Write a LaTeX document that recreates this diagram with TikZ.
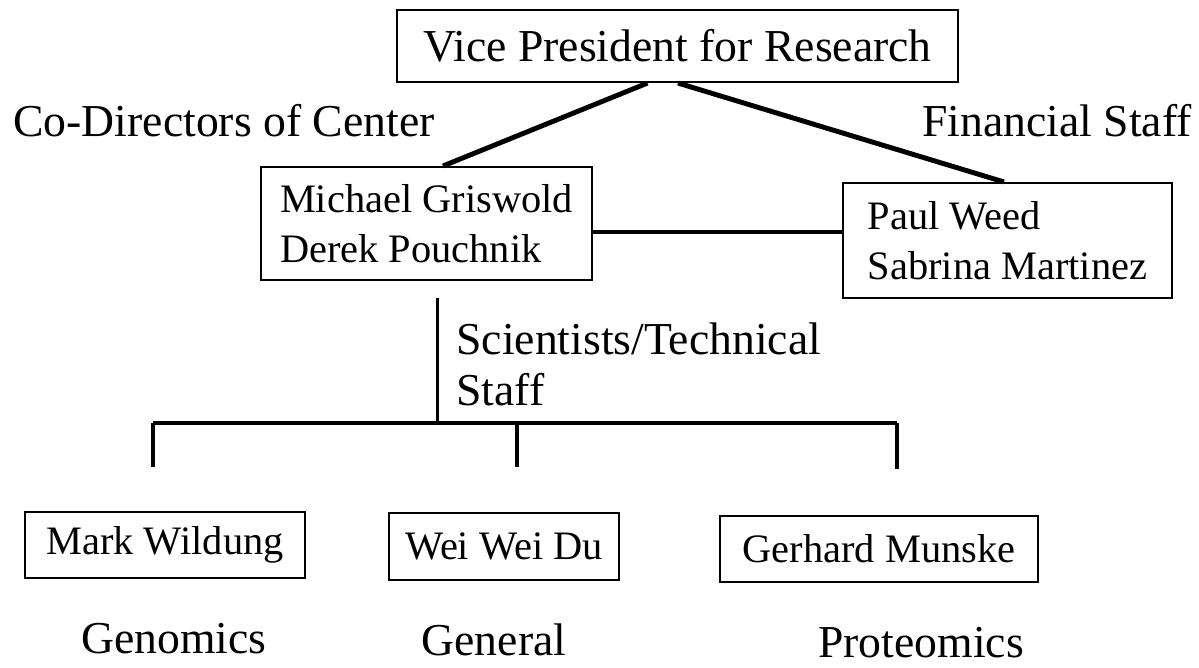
\documentclass[tikz,border=0pt]{standalone}
\usepackage{fontspec}
\setmainfont{Liberation Serif}
\usepackage{tikz}
\usetikzlibrary{positioning,calc}

\begin{document}
\begin{tikzpicture}[x=0.02cm, y=-0.02cm,
    namebox/.style={draw, line width=1.2pt, inner sep=0pt, font=\fontsize{23}{28.5}\selectfont, align=left},
    biglabel/.style={font=\fontsize{26}{29}\selectfont, inner sep=0pt},
    link/.style={line width=2.8pt},
    stem/.style={line width=1.7pt},
    bar/.style={line width=2.3pt}]
    \useasboundingbox (0,0) rectangle (1199,667);

    % top of the chart
    \node[namebox, minimum width=11.22cm, minimum height=1.44cm, font=\fontsize{26}{29}\selectfont] (vp) at (677.5,46) {Vice President for Research};
    \node[biglabel] (codir) at (224,121) {Co-Directors of Center};
    \node[biglabel] (fin) at (1057,121) {Financial Staff};

    % directors and finance
    \node[namebox, minimum width=6.62cm, minimum height=2.26cm] (mg) at (426.5,223.5) {Michael Griswold\\Derek Pouchnik};
    \node[namebox, minimum width=6.58cm, minimum height=2.3cm] (pw) at (1007.5,240.5) {Paul Weed\\Sabrina Martinez};

    \draw[link] ([xshift=-0.6cm]vp.south) -- ([xshift=0.33cm]mg.north);
    \draw[link] ([xshift=0.01cm]vp.south) -- ([xshift=-0.07cm]pw.north);
    \draw[link] ([yshift=-0.17cm]mg.east) -- ([yshift=-0.17cm]mg.east -| pw.west);

    % scientists
    \coordinate (split) at (437,423);
    \node[biglabel, anchor=west, align=left] (sci) at (456,364) {Scientists/Technical\\Staff};
    \draw[stem] ([yshift=-0.34cm]mg.south -| split) -- (split);

    \coordinate (barL) at (153,423);
    \coordinate (barR) at (897,423);
    \draw[bar] (barL) -- (barR);
    \foreach \x/\y/\n in {153/467/gendrop, 517/467/middrop, 897/469/prodrop} {
        \coordinate (\n) at (\x,\y);
        \draw[bar] (\n |- barL) -- (\n);
    }

    % groups
    \node[namebox, minimum width=5.6cm, minimum height=1.32cm] (mw) at (165,545) {Mark Wildung};
    \node[namebox, minimum width=4.6cm, minimum height=1.34cm] (wd) at (504,546.5) {Wei Wei Du};
    \node[namebox, minimum width=6.36cm, minimum height=1.32cm] (gm) at (879,549) {Gerhard Munske};

    \node[biglabel] (genomics) at (174,639) {Genomics};
    \node[biglabel] (general) at (494,640) {General};
    \node[biglabel] (proteomics) at (921,643) {Proteomics};
\end{tikzpicture}
\end{document}
